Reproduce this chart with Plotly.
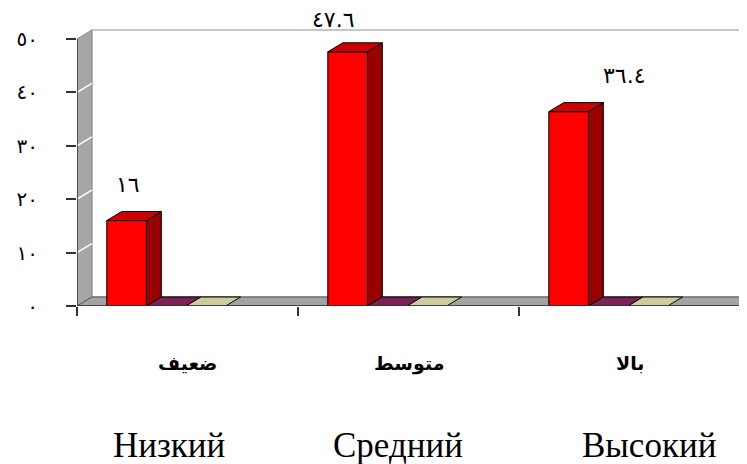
import plotly.graph_objects as go

# ---- data ----
categories_fa = ["ضعيف", "متوسط", "بالا"]
categories_ru = ["Низкий", "Средний", "Высокий"]
series_red = [16, 47.6, 36.4]
series_purple = [0, 0, 0]
series_beige = [0, 0, 0]
value_labels = ["١٦", "٤٧.٦", "٣٦.٤"]
y_tickvals = [0, 10, 20, 30, 40, 50]
y_ticktext = ["٠", "١٠", "٢٠", "٣٠", "٤٠", "٥٠"]

# ---- style ----
W, H = 747, 464
OFF_X, OFF_Y = 9, 8  # page offset compensation
ML, MR, MT, MB = 72 - OFF_X, OFF_X, 20 - OFF_Y, 464 - (306 - OFF_Y)
XMAX = 3.027
PX_PER_X = (W - ML - MR) / XMAX
YMAX = 53.56
PX_PER_Y = (H - MT - MB) / YMAX
DX = 15 / PX_PER_X          # depth offset in x units
DY = 9 / PX_PER_Y           # depth offset in y units
BAR_W = 40 / PX_PER_X
OFFSETS = [0.2245, 0.404, 0.583]
series = [
    dict(vals=series_red, front="#FF0000", top="#CC0000", side="#990000"),
    dict(vals=series_purple, front="#993366", top="#7B2356", side="#5C1A40"),
    dict(vals=series_beige, front="#FFFFCC", top="#CCCC9C", side="#99997A"),
]
label_xshift = [1, -15, 55]
label_yshift = [27, 23, 27]

fig = go.Figure()

def path(xs, ys):
    return "M " + " L ".join(f"{x},{y}" for x, y in zip(xs, ys)) + " Z"

def poly(xs, ys, fill, line="black", lw=1):
    fig.add_trace(go.Scatter(
        x=xs + [xs[0]], y=ys + [ys[0]], mode="lines", fill="toself",
        fillcolor=fill, line=dict(color=line, width=lw),
        hoverinfo="skip", showlegend=False))

ncat = len(categories_fa)
top_val = y_tickvals[-1]

# back wall
fig.add_shape(type="path", xref="x", yref="y", layer="below",
              path=path([DX, ncat + DX, ncat + DX, DX], [DY, DY, top_val + DY, top_val + DY]),
              fillcolor="white", line=dict(color="#B4B4B4", width=1.5))
# left wall
fig.add_shape(type="path", xref="x", yref="y", layer="below",
              path=path([0, DX, DX, 0], [0, DY, top_val + DY, top_val]),
              fillcolor="#A6A6A6", line=dict(color="#8A8A8A", width=1))
# left wall gridlines
for t in y_tickvals[1:-1]:
    fig.add_shape(type="line", xref="x", yref="y", layer="below",
                  x0=0, x1=DX, y0=t, y1=t + DY, line=dict(color="white", width=1.5))
# floor
fig.add_shape(type="path", xref="x", yref="y", layer="below",
              path=path([0, ncat, ncat + DX, DX], [0, 0, DY, DY]),
              fillcolor="#A3A3A3", line=dict(color="#555555", width=1))

# bars: top and side faces (3D)
for ci in range(ncat):
    for si, s in enumerate(series):
        v = s["vals"][ci]
        x0 = ci + OFFSETS[si] - BAR_W / 2
        x1 = ci + OFFSETS[si] + BAR_W / 2
        if v > 0:
            poly([x1, x1 + DX, x1 + DX, x1], [0, DY, v + DY, v], s["side"])
        poly([x0, x1, x1 + DX, x0 + DX], [v, v, v + DY, v + DY], s["top"])

# front faces
for si, s in enumerate(series):
    if max(s["vals"]) > 0:
        fig.add_trace(go.Bar(
            x=[ci + OFFSETS[si] for ci in range(ncat)], y=s["vals"],
            width=BAR_W, marker=dict(color=s["front"], line=dict(color="black", width=1)),
            hoverinfo="skip", showlegend=False))

# axis lines
fig.add_shape(type="line", xref="x", yref="y", x0=0, x1=0, y0=0, y1=top_val,
              line=dict(color="#333333", width=1.5))
fig.add_shape(type="line", xref="x", yref="y", x0=0, x1=ncat, y0=0, y1=0,
              line=dict(color="#333333", width=1.5))

# value labels
for ci in range(ncat):
    v = series_red[ci]
    fig.add_annotation(x=ci + OFFSETS[0], y=v + DY, text=value_labels[ci],
                       showarrow=False, xshift=label_xshift[ci], yshift=label_yshift[ci],
                       xanchor="center", yanchor="middle", borderpad=0,
                       font=dict(family="DejaVu Sans", size=22, color="black"))

# category labels (Persian)
for ci in range(ncat):
    fig.add_annotation(x=ci + 0.5, xref="x", y=0, yref="paper",
                       text="<b>" + categories_fa[ci] + "</b>",
                       xanchor="center", yanchor="middle", yshift=-(363 - 306),
                       showarrow=False, font=dict(family="DejaVu Sans", size=19, color="black"))

# Russian labels
ru_centers = [165, 396, 649]
for ci in range(ncat):
    fig.add_annotation(x=(ru_centers[ci] - 72) / PX_PER_X, xref="x", y=0, yref="paper",
                       text=categories_ru[ci], showarrow=False, borderpad=0,
                       xanchor="center", yanchor="middle", yshift=-(445 - 306),
                       font=dict(family="Liberation Serif", size=35, color="black"))

fig.update_layout(
    width=W, height=H, margin=dict(l=ML, r=MR, t=MT, b=MB),
    paper_bgcolor="white", plot_bgcolor="white", barmode="overlay",
    xaxis=dict(range=[0, XMAX], showgrid=False, zeroline=False, showline=False,
               tickvals=[0, 1, 2, 3], ticktext=["", "", "", ""], ticks="outside",
               ticklen=9, tickcolor="#333333", tickwidth=1.5, fixedrange=True),
    yaxis=dict(range=[0, YMAX], showgrid=False, zeroline=False, showline=False,
               tickvals=y_tickvals, ticktext=y_ticktext, ticks="outside",
               ticklen=10, tickcolor="#333333", tickwidth=1.5, ticklabelstandoff=24,
               tickfont=dict(family="DejaVu Sans", size=20, color="black"), fixedrange=True),
)

fig.write_html("out.html")
